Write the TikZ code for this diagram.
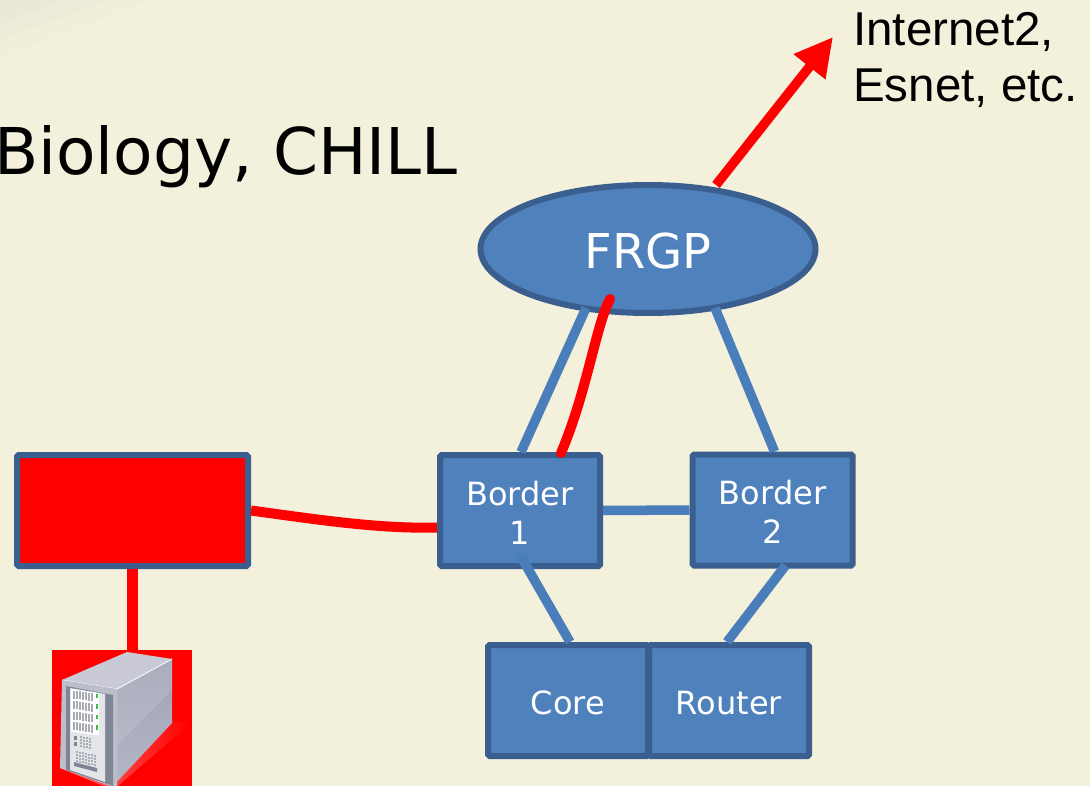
\documentclass[tikz,border=0pt]{standalone}
\usepackage{fontspec}
\setmainfont{DejaVu Sans}
\newfontfamily\arialfont{Liberation Sans}
\usetikzlibrary{arrows.meta,shapes.geometric,calc}
\definecolor{bgcream}{HTML}{F3F0DC}
\definecolor{blueface}{HTML}{4F81BD}
\definecolor{blueedge}{HTML}{3A5F8E}
\definecolor{blueline}{HTML}{4A7EBB}
\definecolor{srvtop}{HTML}{C9CAD6}
\definecolor{srvsideA}{HTML}{9EA3B4}
\definecolor{srvsideB}{HTML}{B4B7C6}
\definecolor{srvframe}{HTML}{BCBECB}
\definecolor{srvdark}{HTML}{7F8595}
\definecolor{srvpanel}{HTML}{E4E5E9}
\definecolor{srvslot}{HTML}{A9ACB6}
\newcommand{\topstrut}[1]{\rule{0pt}{#1}}
\tikzset{
  netbox/.style={draw=blueedge,fill=blueface,line width=6pt,rounded corners=1.5pt,inner sep=0pt,
    minimum width=160pt,minimum height=111pt,text=white,align=center,font=\fontsize{32}{39}\selectfont},
  cloudnode/.style={ellipse,draw=blueedge,fill=blueface,line width=6pt,inner sep=0pt,
    minimum width=335pt,minimum height=128pt,text=white,font=\fontsize{48}{54}\selectfont},
  redbox/.style={draw=blueedge,fill=red,line width=6pt,rounded corners=1.5pt,inner sep=0pt,
    minimum width=231pt,minimum height=111pt},
  blink/.style={draw=blueline,line width=9.5pt},
  rlink/.style={draw=red,line width=10pt,line cap=round},
  bigtext/.style={inner sep=0pt,font=\fontsize{64.5}{70}\selectfont,anchor=base east},
  labeltext/.style={inner sep=0pt,anchor=base west,font=\arialfont\fontsize{47.5}{57}\selectfont}
}
\begin{document}
\begin{tikzpicture}[x=1pt,y=-1pt]
\useasboundingbox (0,0) rectangle (1090,786);
\fill[bgcream] (0,0) rectangle (1090,786);
% faint streaks in the top-left corner
\fill[bgcream!98!gray] (0,58) -- (0,0) -- (150,0) -- cycle;
\fill[bgcream!96!gray] (0,40) -- (0,0) -- (110,0) -- cycle;
\fill[bgcream!93!gray] (0,24) -- (0,0) -- (64,0) -- cycle;

\node[bigtext] (title) at (458,175) {Biology, CHILL};
\node[labeltext] (inet) at (853,46) {Internet2,};
\node[labeltext] (esnet) at (853,102) {Esnet, etc.};

% nodes
\node[cloudnode] (frgp) at (648,249) {\topstrut{39pt}FRGP};
\node[netbox] (b1) at (520,510.5) {\topstrut{28.5pt}Border\\1};
\node[netbox] (b2) at (772.5,510) {\topstrut{28.5pt}Border\\2};
\node[netbox] (core) at (568,700.5) {\topstrut{28pt}Core};
\node[netbox] (router) at (729,700.5) {\topstrut{28pt}Router};
\node[redbox] (rbox) at (132.5,510.5) {};
\node[fill=red,minimum width=140pt,minimum height=136pt,inner sep=0pt] (srv) at (122,718) {};

% server icon
\begin{scope}
\clip (52,650) rectangle (192,786);
\shade[left color=red!55!white,right color=red] (60,768) -- (113,790) -- (190,724) -- (172,720) -- cycle;
\shade[top color=srvsideA,bottom color=srvsideB] (117,689) -- (172,659) -- (172,723) -- (113,786) -- cycle;
\fill[white,opacity=.12] (117,689) -- (172,659) -- (172,690) -- (117,745) -- cycle;
\fill[srvtop] (62,680) -- (127,652) -- (172,659) -- (117,689) -- cycle;
\draw[white,line width=.8pt] (62,680) -- (117,689) -- (172,659);
\fill[srvframe] (62,680) -- (117,689) -- (117,786) -- (110,786) -- (60,768) -- cycle;
\fill[srvdark] (66,686) -- (113,695) -- (113,786) -- (66,770) -- cycle;
\fill[srvpanel] (70,688) -- (105,694) -- (105,782) -- (70,770) -- cycle;
\foreach \yy in {689,699.5,710,720.5}{
  \fill[white] (71,\yy) -- (99,\yy+4) -- (99,\yy+15) -- (71,\yy+11) -- cycle;
  \foreach \xx in {73,76,79,82,85,88,91}{
    \fill[srvslot] (\xx,\yy+1.5+.14*\xx-10.2) rectangle ++(2,8);
  }
  \fill[green!45!gray] (95.5,\yy+4.5) rectangle (98,\yy+9);
}
\fill[srvdark] (74,736) rectangle (77,740);
\fill[srvdark] (74,742) rectangle (77,746);
\foreach \xx in {80,83,86,89}{\foreach \yy in {736,739,742,745}{\fill[srvslot] (\xx,\yy+.2*\xx-16) rectangle ++(2,2);}}
\foreach \xx in {76,79,82,85,88,91,94}{\foreach \yy in {751,754,757,760}{\fill[srvslot] (\xx,\yy+.2*\xx-15) rectangle ++(2,2);}}
\fill[srvdark] (74,762) -- (97,768) -- (97,772) -- (74,766) -- cycle;
\end{scope}

% connectors
\draw[blink] ($(frgp.south)+(-62,-8)$) -- ($(b1.north)+(1,0)$);
\draw[blink] ($(frgp.south)+(67,-8)$) -- ($(b2.north)+(2,0)$);
\draw[blink] (b1.east) -- (b2.west);
\draw[blink] ($(b1.south)+(0,-14)$) -- ($(core.north)+(2,0)$);
\draw[blink] ($(b2.south)+(13,-3)$) -- ($(router.north)+(-2,0)$);
\draw[rlink] ($(frgp.south)+(-38,-17)$) .. controls (596,325) and (587,392) .. ($(b1.north)+(41,1)$);
\draw[rlink,line cap=butt] (rbox.east) .. controls (320,520) and (380,529) .. ($(b1.west)+(0,17)$);
\draw[draw=red,line width=11.5pt] (rbox.south) -- (srv.north-|rbox.south);
\coordinate (inetend) at (833,37);
\draw[draw=red,line width=9.5pt,-{Triangle[length=38pt,width=38pt]}] ($(frgp.north)+(68,3)$) -- (inetend);
\end{tikzpicture}
\end{document}
